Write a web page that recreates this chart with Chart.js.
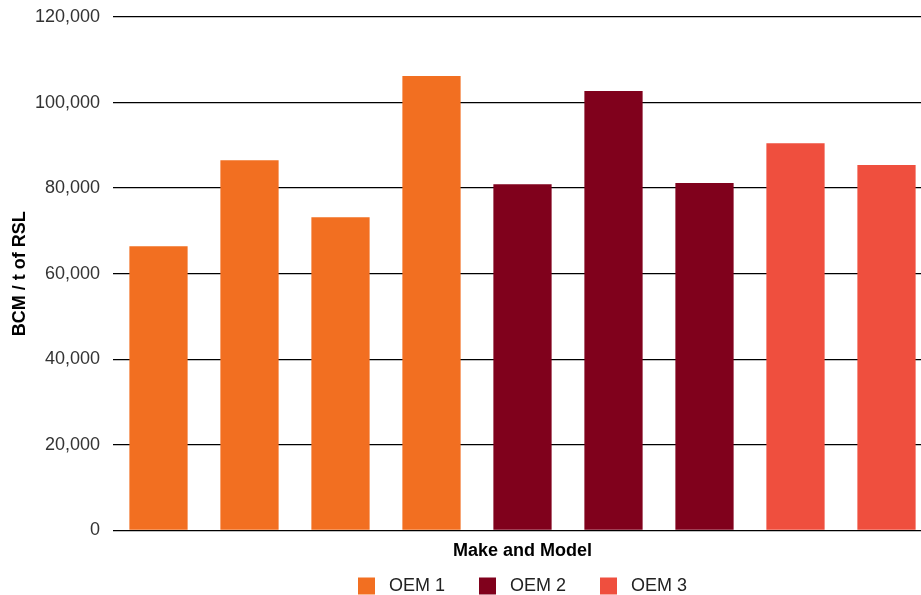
<!DOCTYPE html>
<html>
<head>
<meta charset="utf-8">
<script src="https://cdn.jsdelivr.net/npm/chart.js@4"></script>
<style>
    html, body { margin: 0; padding: 0; background: #fff; overflow: hidden; }
    .wrap { width: 932px; height: 595px; }
</style>
</head>
<body>
<div class="wrap"><canvas id="barChart" width="932" height="595"></canvas></div>
<script>
const models = ['Model 1', 'Model 2', 'Model 3', 'Model 4', 'Model 5', 'Model 6', 'Model 7', 'Model 8', 'Model 9'];
const oem1 = [66400, 86500, 73200, 106200, null, null, null, null, null];
const oem2 = [null, null, null, null, 80900, 102700, 81200, null, null];
const oem3 = [null, null, null, null, null, null, null, 90500, 85400];
const yTicks = [0, 20000, 40000, 60000, 80000, 100000, 120000];

const font = "'Liberation Sans', Arial, Helvetica, sans-serif";

function makeSet(label, data, color) {
    return {
        label: label,
        data: data,
        backgroundColor: color,
        borderWidth: 0,
        barPercentage: 0.64,
        categoryPercentage: 1
    };
}

// legend items sit further apart than chart.js does by default
function legendLabels(chart) {
    const items = Chart.defaults.plugins.legend.labels.generateLabels(chart);
    items.forEach((item, i) => {
        item.text = ' ' + item.text + (i < items.length - 1 ? '      ' : '');
    });
    return items;
}

const ctx = document.getElementById('barChart').getContext('2d');
new Chart(ctx, {
    type: 'bar',
    data: {
        labels: models,
        datasets: [
            makeSet('OEM 1', oem1, '#F26F21'),
            makeSet('OEM 2', oem2, '#80011C'),
            makeSet('OEM 3', oem3, '#EF4F3E')
        ]
    },
    options: {
        responsive: false,
        animation: false,
        grouped: false,
        layout: { padding: { top: 0, left: 0, right: 0, bottom: -10 } },
        plugins: {
            tooltip: { enabled: false },
            legend: {
                position: 'bottom',
                fullSize: false,
                labels: {
                    font: { family: font, size: 18 },
                    color: '#222',
                    boxWidth: 17,
                    boxHeight: 17,
                    padding: 4,
                    generateLabels: legendLabels
                }
            }
        },
        scales: {
            x: {
                grid: { display: false },
                border: { display: false },
                ticks: { display: false },
                title: {
                    display: true,
                    text: 'Make and Model',
                    color: '#000',
                    font: { family: font, size: 18, weight: 'bold' },
                    padding: { top: 2, bottom: 11 }
                }
            },
            y: {
                min: 0,
                max: 120000,
                afterBuildTicks: axis => { axis.ticks = yTicks.map(v => ({ value: v })); },
                afterFit: axis => {
                    axis.width = 113;
                    axis.paddingTop = 17;
                    axis.paddingBottom = 0;
                },
                grid: { color: '#000', lineWidth: 1.3, drawTicks: false, tickLength: 0 },
                border: { display: false },
                ticks: {
                    padding: 13,
                    color: '#333',
                    font: { family: font, size: 18 },
                    callback: v => v.toLocaleString('en-US')
                },
                title: {
                    display: true,
                    text: 'BCM / t of RSL',
                    color: '#000',
                    font: { family: font, size: 18, weight: 'bold' },
                    padding: { top: 9, bottom: 0 }
                }
            }
        }
    }
});
</script>
</body>
</html>
